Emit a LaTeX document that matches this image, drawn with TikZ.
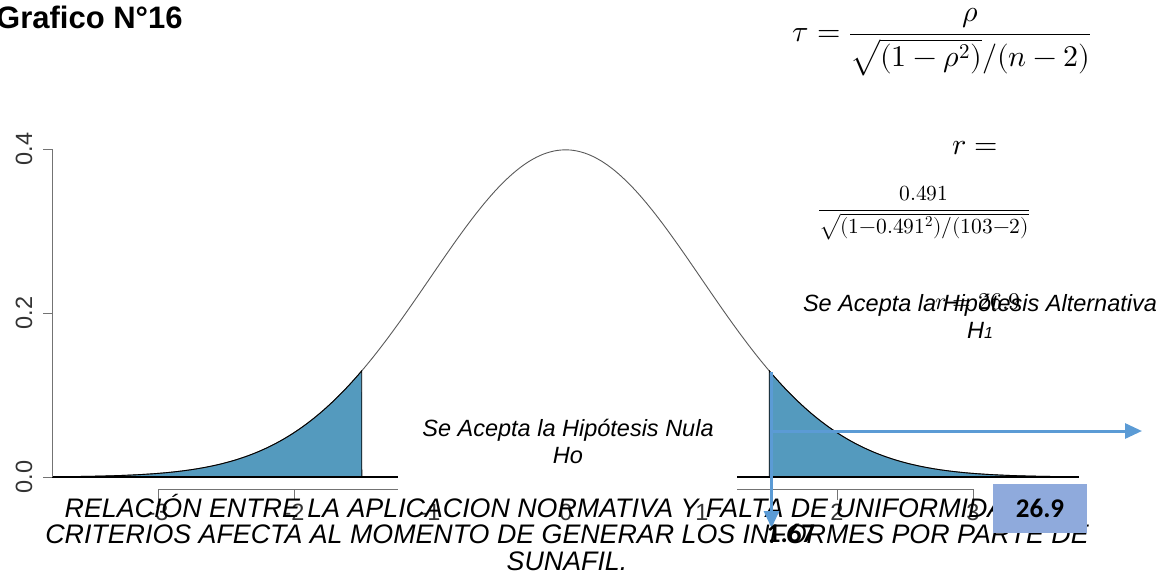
\documentclass[tikz,border=0pt]{standalone}
\usepackage{amsmath}
\usepackage{fontspec}
\usepackage{unicode-math}
\setmainfont{Liberation Sans}
\setmathfont{Latin Modern Math}
\newfontfamily\carlito{Carlito}
\usetikzlibrary{arrows.meta}
\definecolor{tailfill}{RGB}{84,154,190}
\definecolor{arrowblue}{RGB}{91,155,213}
\definecolor{boxblue}{RGB}{143,170,220}
\tikzset{
  txt/.style={inner sep=0pt, align=center, font=\fontsize{23.5}{27}\selectfont\itshape},
  ticklab/.style={inner sep=0pt, font=\fontsize{23.5}{23.5}\selectfont, text=black!80},
  axisline/.style={draw=black!55, line width=0.9pt},
  bluearrow/.style={draw=arrowblue, line width=3pt, -{Triangle[length=17pt,width=15pt]}},
  numlab/.style={inner sep=0pt, font=\fontsize{27}{27}\selectfont\carlito\bfseries},
  mathlab/.style={inner sep=0pt}
}
\begin{document}
\begin{tikzpicture}[x=1pt,y=-1pt]
\useasboundingbox (0,0) rectangle (1175,584);
% tails
\fill[tailfill] (52,477) -- plot[domain=-3.78:-1.5, samples=80] ({565.5+135.8*\x},{477-327.1*exp(-0.5*\x*\x)}) -- (361.8,477) -- cycle;
\fill[tailfill] (769.2,477) -- plot[domain=1.5:3.78, samples=80] ({565.5+135.8*\x},{477-327.1*exp(-0.5*\x*\x)}) -- (1079,477) -- cycle;
% curve
\draw[black!65, line width=0.9pt] plot[domain=-3.78:3.78, samples=300] ({565.5+135.8*\x},{477-327.1*exp(-0.5*\x*\x)});
\draw[black, line width=0.9pt] plot[domain=-3.78:-1.5, samples=80] ({565.5+135.8*\x},{477-327.1*exp(-0.5*\x*\x)}) -- (361.8,477);
\draw[black, line width=0.9pt] (769.2,477) -- plot[domain=1.5:3.78, samples=80] ({565.5+135.8*\x},{477-327.1*exp(-0.5*\x*\x)});
\draw[black, line width=1.2pt] (52,477) -- (1079,477);
% y axis
\draw[axisline] (52,149) -- (52,477);
\foreach \v/\yy in {0.0/477,0.2/313,0.4/149}{
  \draw[axisline] (43,\yy) -- (52,\yy);
  \node[ticklab, rotate=90] (ylab\v) at (24,\yy) {\v};
}
% x axis
\draw[axisline] (158,489) -- (973,489);
\foreach \t/\xx in {-3/158,-2/294,-1/430,0/566,1/702,2/837,3/973}{
  \draw[axisline] (\xx,489) -- (\xx,500);
  \node[ticklab] (xlab\t) at (\xx,512) {\t};
}
% white box with null hypothesis text
\fill[white] (398,402) rectangle (737,501);
\node[txt] (nula) at (568,441) {Se Acepta la Hipótesis Nula\\Ho};
% alternative hypothesis text
\node[txt] (alt) at (980,316) {Se Acepta la Hipótesis Alternativa\\H{\fontsize{16}{16}\selectfont 1}};
\node[mathlab, font=\fontsize{24}{24}\selectfont] (rval) at (978,302) {$r=26.9$};
% formulas
\node[mathlab, font=\fontsize{30}{34}\selectfont] (tau) at (942,42) {$\tau=\dfrac{\rho}{\sqrt{(1-\rho^2)}/(n-2)}$};
\node[mathlab, font=\fontsize{30}{34}\selectfont] (req) at (975,148) {$r=$};
\node[mathlab, font=\fontsize{21.5}{24}\selectfont] (rfrac) at (924,213) {$\dfrac{0.491}{\sqrt{(1{-}0.491^2)/(103{-}2)}}$};
% title
\node[anchor=west, inner sep=0pt, font=\fontsize{31}{31}\selectfont\bfseries] (title) at (-4,17) {Grafico N°16};
% caption
\node[inner sep=0pt, align=center, font=\fontsize{26.8}{26.5}\selectfont\itshape] (cap) at (567,532.5) {RELACIÓN ENTRE LA APLICACION NORMATIVA Y FALTA DE UNIFORMIDAD DE\\CRITERIOS AFECTA AL MOMENTO DE GENERAR LOS INFORMES POR PARTE DE\\SUNAFIL.};
% arrows
\coordinate (vtop) at (771.5,372);
\coordinate (vtip) at (771.5,528);
\coordinate (hstart) at (771.5,431);
\coordinate (htip) at (1142,431);
\draw[bluearrow] (vtop) -- (vtip);
\draw[bluearrow] (hstart) -- (htip);
% value boxes
\node[numlab] (crit) at (791,533) {1.67};
\node[fill=boxblue, minimum width=94pt, minimum height=49pt, inner sep=0pt, font=\fontsize{27}{27}\selectfont\carlito\bfseries] (tval) at (1040,508.5) {26.9};
\end{tikzpicture}
\end{document}
